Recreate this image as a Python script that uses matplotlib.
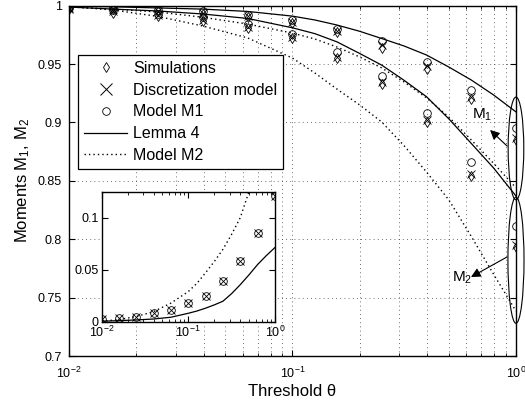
import numpy as np
import matplotlib
matplotlib.use('Agg')
import matplotlib.pyplot as plt
from matplotlib.patches import Ellipse
from matplotlib.lines import Line2D
from matplotlib.ticker import FuncFormatter, LogLocator, NullFormatter
import matplotlib.transforms as mtransforms

plt.rcParams['font.family'] = ['Liberation Sans', 'DejaVu Sans']
plt.rcParams['mathtext.default'] = 'regular'
plt.rcParams['axes.unicode_minus'] = True

# thresholds where the markers sit
theta_k = [0.01, 0.0158, 0.0251, 0.0398, 0.0631, 0.1, 0.158, 0.251, 0.398, 0.631, 1.0]
# thresholds for the curves
theta_c = [0.01, 0.0158, 0.0251, 0.0398, 0.0631, 0.1, 0.126, 0.158, 0.2, 0.251,
           0.316, 0.398, 0.501, 0.631, 0.794, 1.0]

# main plot: M1 group
m1_model1 = [0.999, 0.998, 0.996, 0.995, 0.992, 0.988, 0.980, 0.970, 0.952, 0.928, 0.895]
m1_disc = [0.998, 0.997, 0.995, 0.994, 0.991, 0.986, 0.978, 0.966, 0.948, 0.922, 0.887]
m1_sim = [0.998, 0.997, 0.995, 0.993, 0.990, 0.985, 0.977, 0.964, 0.946, 0.920, 0.885]
# main plot: M2 group
m2_model1 = [0.998, 0.996, 0.993, 0.990, 0.984, 0.976, 0.960, 0.940, 0.908, 0.866, 0.811]
m2_disc = [0.997, 0.995, 0.992, 0.988, 0.982, 0.973, 0.956, 0.935, 0.902, 0.856, 0.795]
m2_sim = [0.997, 0.994, 0.991, 0.987, 0.981, 0.972, 0.955, 0.933, 0.900, 0.854, 0.793]

# curves
lemma_m1 = [0.9995, 0.999, 0.998, 0.997, 0.995, 0.991, 0.9877, 0.9834, 0.978, 0.9718,
            0.9654, 0.9577, 0.9474, 0.9363, 0.9235, 0.909]
lemma_m2 = [0.9988, 0.997, 0.9954, 0.9928, 0.989, 0.981, 0.976, 0.969, 0.959, 0.949,
            0.936, 0.922, 0.903, 0.882, 0.861, 0.837]
modm2_m1 = [0.9988, 0.997, 0.9945, 0.990, 0.9842, 0.9765, 0.9714, 0.9646, 0.956, 0.9466,
            0.9346, 0.921, 0.9046, 0.885, 0.865, 0.844]
modm2_m2 = [0.9993, 0.9962, 0.9907, 0.9825, 0.9723, 0.9551, 0.9423, 0.9286, 0.9149, 0.9003,
            0.880, 0.8575, 0.8336, 0.8024, 0.770, 0.7385]

# inset
inset_marks = [0.0023, 0.0033, 0.0048, 0.0081, 0.0113, 0.0178, 0.0249, 0.0388, 0.0581, 0.0857, 0.121]
inset_lemma = [0.0005, 0.001, 0.0017, 0.0026, 0.0043, 0.0081, 0.0103, 0.013, 0.0162, 0.0197,
               0.027, 0.0356, 0.045, 0.055, 0.0635, 0.0713]
inset_m2 = [0.0005, 0.002, 0.005, 0.0097, 0.0179, 0.029, 0.037, 0.047, 0.058, 0.0696,
            0.084, 0.1, 0.125, 0.17, 0.22, 0.28]

dot_ls = (0, (1, 2.2))
grid_kw = dict(color='0.25', linestyle=(0, (1, 4)), linewidth=0.6)
mk = dict(color='k', mfc='none', linestyle='none', markersize=5.5, markeredgewidth=0.6)

fig = plt.figure(figsize=(5.25, 4.04), dpi=100)
ax = fig.add_axes([0.1314, 0.1188, 0.8514, 0.8673])

ax.plot(theta_c, lemma_m1, 'k-', lw=0.9)
ax.plot(theta_c, lemma_m2, 'k-', lw=0.9)
ax.plot(theta_c, modm2_m1, color='k', ls=dot_ls, lw=1.0)
ax.plot(theta_c, modm2_m2, color='k', ls=dot_ls, lw=1.0)
for ys in (m1_sim, m2_sim):
    ax.plot(theta_k, ys, marker='d', **mk)
for ys in (m1_disc, m2_disc):
    ax.plot(theta_k, ys, marker='x', **mk)
for ys in (m1_model1, m2_model1):
    ax.plot(theta_k, ys, marker='o', **mk)

ax.set_xscale('log')
ax.set_xlim(0.01, 1)
ax.set_ylim(0.7, 1.0)
ax.set_yticks([0.7, 0.75, 0.8, 0.85, 0.9, 0.95, 1.0])
ax.yaxis.set_major_formatter(FuncFormatter(lambda v, _: f'{v:g}'))
ax.xaxis.set_minor_locator(LogLocator(base=10, subs=np.arange(2, 10)))
ax.xaxis.set_minor_formatter(NullFormatter())
ax.grid(True, which='major', axis='both', **grid_kw)
ax.grid(True, which='minor', axis='x', **grid_kw)
ax.tick_params(which='both', direction='in', top=True, right=True, labelsize=9)
ax.tick_params(axis='x', which='major', pad=7, length=4)
ax.tick_params(axis='x', which='minor', length=2)
ax.tick_params(axis='y', pad=5, length=4)
for s in ax.spines.values():
    s.set_linewidth(1.0)
ax.set_xlabel('Threshold θ', fontsize=12, labelpad=2)
ax.set_ylabel('Moments M$_1$, M$_2$', fontsize=12, labelpad=4)

# ellipses around last points
trans = mtransforms.blended_transform_factory(ax.transAxes, ax.transData)
ax.add_patch(Ellipse((1.0, 0.8777), 0.035, 0.088, transform=trans, fill=False,
                     ec='k', lw=0.8, clip_on=False))
ax.add_patch(Ellipse((1.0, 0.782), 0.036, 0.108, transform=trans, fill=False,
                     ec='k', lw=0.8, clip_on=False))

arrow_kw = dict(arrowstyle='-|>', color='k', lw=0.8, mutation_scale=14, shrinkA=0, shrinkB=0)
ax.annotate('', xy=(0.766, 0.8935), xytext=(0.912, 0.8798), arrowprops=arrow_kw)
ax.annotate('', xy=(0.629, 0.7676), xytext=(0.912, 0.7848), arrowprops=arrow_kw)
ax.text(0.705, 0.9063, 'M$_1$', fontsize=11, ha='center', va='center')
ax.text(0.573, 0.7668, 'M$_2$', fontsize=11, ha='center', va='center')

handles = [
    Line2D([], [], marker='d', **mk),
    Line2D([], [], marker='x', color='k', linestyle='none', markersize=8, markeredgewidth=0.7),
    Line2D([], [], marker='o', **mk),
    Line2D([], [], color='k', lw=0.9),
    Line2D([], [], color='k', ls=dot_ls, lw=1.0),
]
labels = ['Simulations', 'Discretization model', 'Model M1', 'Lemma 4', 'Model M2']
leg = ax.legend(handles, labels, loc='upper left', bbox_to_anchor=(78 / 525, 1 - 55 / 404),
                bbox_transform=fig.transFigure, borderaxespad=0, fontsize=11.5,
                fancybox=False, framealpha=1, edgecolor='k', handlelength=2.7,
                handletextpad=0.35, labelspacing=0.42, borderpad=0.38)
leg.get_frame().set_linewidth(0.9)

# inset
axi = fig.add_axes([0.1937, 0.2037, 0.330, 0.3218])
axi.plot(theta_c, inset_lemma, 'k-', lw=0.9)
axi.plot(theta_c, inset_m2, color='k', ls=dot_ls, lw=1.0)
axi.plot(theta_k, inset_marks, marker='x', **mk)
axi.plot(theta_k, inset_marks, marker='o', **mk)
axi.set_xscale('log')
axi.set_xlim(0.01, 1)
axi.set_ylim(0, 0.125)
axi.set_yticks([0, 0.05, 0.1])
axi.yaxis.set_major_formatter(FuncFormatter(lambda v, _: f'{v:g}'))
axi.xaxis.set_minor_locator(LogLocator(base=10, subs=np.arange(2, 10)))
axi.xaxis.set_minor_formatter(NullFormatter())
axi.tick_params(which='both', direction='in', top=True, right=True, labelsize=9)
axi.tick_params(axis='x', which='major', pad=2, length=4)
axi.tick_params(axis='x', which='minor', length=2)
axi.tick_params(axis='y', pad=2, length=4)
for s in axi.spines.values():
    s.set_linewidth(1.0)

fig.savefig('out.png', dpi=100)
